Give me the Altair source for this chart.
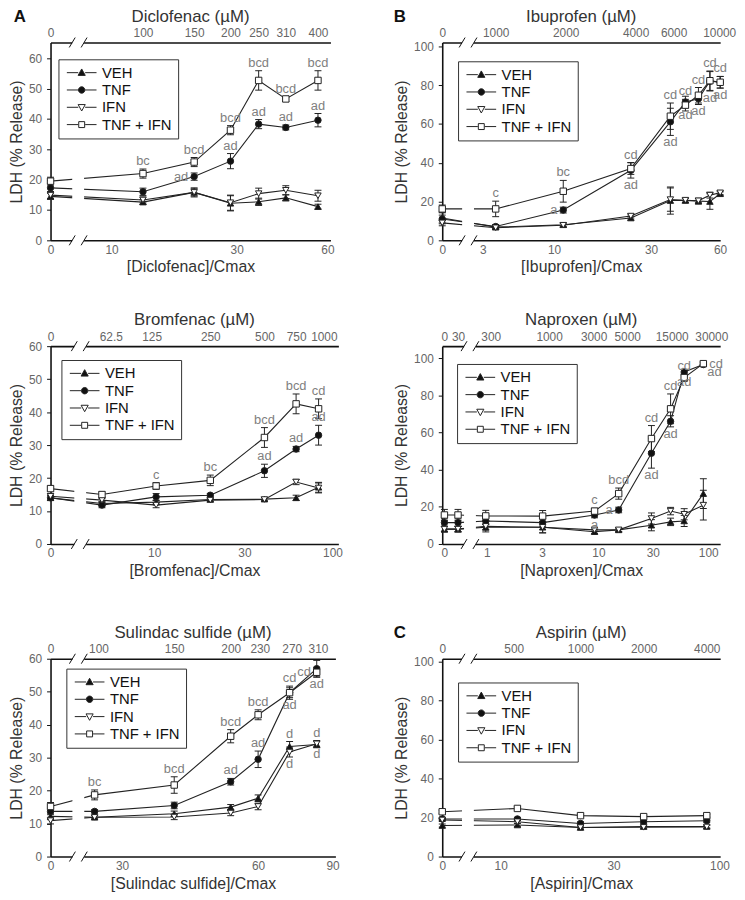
import math
import altair as alt
import pandas as pd

FONT = "Liberation Sans"
SERIES = ["VEH", "TNF", "IFN", "TNF + IFN"]
SHAPES = ["triangle-up", "circle", "triangle-down", "square"]
FILLS = ["#111111", "#111111", "#ffffff", "#ffffff"]

# ---------------- Diclofenac ----------------
dic_conc = [0, 100, 150, 200, 250, 310, 400]
dic_veh = [14.5, 12.6, 15.8, 12.2, 12.7, 14.0, 11.1]
dic_tnf = [17.3, 16.0, 21.0, 26.1, 38.3, 37.2, 39.6]
dic_ifn = [14.9, 13.3, 15.8, 12.4, 15.4, 16.5, 14.7]
dic_ti = [19.5, 22.0, 25.8, 36.3, 52.7, 46.6, 52.7]
dic_veh_err = [1.0, 0.8, 1.2, 2.5, 1.2, 1.0, 0.8]
dic_tnf_err = [1.5, 1.2, 1.2, 2.5, 1.5, 0.8, 2.2]
dic_ifn_err = [1.2, 1.0, 1.5, 2.5, 1.8, 1.5, 1.8]
dic_ti_err = [1.3, 1.5, 1.5, 1.5, 3.2, 0.8, 3.2]
dic_top_ticks = [0, 100, 150, 200, 250, 310, 400]
dic_top_at_um = [0, 100, 150, 200, 250, 310, 400]
dic_cmax_ticks = [0, 10, 30, 60]
dic_cmax_at_um = [0, 78, 210, 431]
dic_ann = [("TNF + IFN", 100, "bc", "above"), ("TNF + IFN", 150, "bcd", "above"),
           ("TNF", 150, "ad", "left"), ("TNF + IFN", 200, "bcd", "above"),
           ("TNF", 200, "ad", "above"), ("TNF + IFN", 250, "bcd", "above"),
           ("TNF", 250, "ad", "above"), ("TNF + IFN", 310, "bcd", "above"),
           ("TNF", 310, "ad", "above"), ("TNF + IFN", 400, "bcd", "above"),
           ("TNF", 400, "ad", "above")]

# ---------------- Ibuprofen ----------------
ibu_conc = [0, 1000, 2000, 4000, 6000, 7000, 8000, 9000, 10000]
ibu_veh = [11.5, 6.8, 8.0, 11.5, 20.5, 20.5, 20.2, 20.0, 24.0]
ibu_tnf = [11.0, 7.1, 15.6, 36.1, 61.1, 71.3, 73.0, 82.0, 81.5]
ibu_ifn = [9.0, 6.5, 7.8, 12.5, 21.0, 20.7, 20.4, 23.3, 24.5]
ibu_ti = [16.2, 16.2, 25.3, 37.0, 64.0, 69.7, 74.8, 82.3, 81.5]
ibu_veh_err = [3.0, 1.0, 1.0, 1.0, 7.0, 1.0, 1.5, 4.0, 1.0]
ibu_tnf_err = [2.0, 1.0, 1.5, 4.0, 7.0, 3.0, 3.0, 5.0, 3.0]
ibu_ifn_err = [1.5, 1.0, 1.0, 1.0, 6.0, 1.0, 1.0, 1.5, 1.0]
ibu_ti_err = [2.0, 4.0, 5.6, 3.0, 6.8, 3.0, 4.0, 5.0, 3.0]
ibu_top_ticks = [0, 1000, 2000, 4000, 6000, 10000]
ibu_top_at_um = [0, 1000, 2050, 4200, 6200, 9900]
ibu_cmax_ticks = [0, 3, 10, 30, 60]
ibu_cmax_at_um = [0, 877, 1820, 4925, 9990]
ibu_ann = [("TNF + IFN", 1000, "c", "above"), ("TNF + IFN", 2000, "bc", "above"),
           ("TNF", 2000, "a", "left"), ("TNF + IFN", 4000, "cd", "above"),
           ("TNF", 4000, "ad", "below"), ("TNF + IFN", 6000, "cd", "above"),
           ("TNF", 6000, "ad", "below"), ("TNF + IFN", 7000, "cd", "above"),
           ("TNF", 7000, "ad", "below"), ("TNF + IFN", 8000, "cd", "above"),
           ("TNF", 8000, "ad", "below"), ("TNF + IFN", 9000, "cd", "above"),
           ("TNF", 9000, "ad", "below"), ("TNF + IFN", 10000, "cd", "above"),
           ("TNF", 10000, "ad", "below")]

# ---------------- Bromfenac ----------------
bro_conc = [0, 62.5, 125, 250, 500, 750, 1000]
bro_veh = [14.0, 12.3, 12.7, 13.5, 13.6, 14.0, 17.2]
bro_tnf = [14.0, 11.8, 14.3, 14.8, 22.2, 28.8, 33.0]
bro_ifn = [14.5, 13.3, 11.8, 13.3, 13.5, 18.8, 17.0]
bro_ti = [16.8, 15.0, 17.6, 19.3, 32.3, 42.5, 41.0]
bro_veh_err = [0.8, 0.5, 0.5, 0.5, 0.5, 0.8, 1.5]
bro_tnf_err = [0.8, 0.8, 1.0, 0.5, 2.0, 0.8, 3.0]
bro_ifn_err = [0.8, 0.5, 0.8, 0.5, 0.5, 0.8, 1.5]
bro_ti_err = [0.8, 0.8, 1.0, 1.6, 3.0, 3.0, 3.0]
bro_top_ticks = [0, 62.5, 125, 250, 500, 750, 1000]
bro_top_at_um = [0, 70, 118, 250, 500, 750, 1070]
bro_cmax_ticks = [0, 10, 30, 100]
bro_cmax_at_um = [0, 122, 387, 1194]
bro_ann = [("TNF + IFN", 125, "c", "above"), ("TNF + IFN", 250, "bc", "above"),
           ("TNF + IFN", 500, "bcd", "above"), ("TNF", 500, "ad", "above"),
           ("TNF + IFN", 750, "bcd", "above"), ("TNF", 750, "ad", "above"),
           ("TNF + IFN", 1000, "cd", "above"), ("TNF", 1000, "ad", "above")]

# ---------------- Naproxen ----------------
nap_conc = [0, 30, 300, 1000, 3000, 5000, 10000, 15000, 20000, 30000]
nap_veh = [8.0, 8.0, 9.0, 9.0, 6.6, 7.6, 10.1, 11.9, 12.4, 27.1]
nap_tnf = [11.5, 11.5, 12.4, 11.5, 15.6, 18.3, 48.8, 66.0, 92.5, 96.5]
nap_ifn = [8.0, 8.0, 9.5, 9.0, 7.6, 7.6, 13.7, 17.7, 16.0, 20.9]
nap_ti = [15.6, 15.6, 15.1, 15.0, 17.7, 27.1, 56.7, 72.7, 89.5, 97.0]
nap_veh_err = [1.5, 1.5, 1.5, 3.0, 1.0, 1.0, 3.0, 2.0, 3.0, 8.0]
nap_tnf_err = [2.0, 2.0, 2.0, 2.0, 1.5, 1.5, 8.0, 3.0, 1.5, 1.0]
nap_ifn_err = [1.5, 1.5, 3.0, 3.0, 1.0, 1.0, 3.0, 2.0, 3.0, 8.0]
nap_ti_err = [3.0, 3.0, 3.0, 3.0, 1.5, 3.0, 7.0, 8.0, 2.0, 1.0]
nap_top_ticks = [0, 30, 300, 1000, 3000, 5000, 15000, 30000]
nap_top_at_um = [0, 30, 333, 1146, 2940, 5980, 15350, 35500]
nap_cmax_ticks = [0, 1, 3, 10, 30, 100]
nap_cmax_at_um = [0, 306, 989, 3258, 10300, 33300]
nap_ann = [("TNF + IFN", 3000, "c", "above"), ("TNF", 3000, "a", "below"),
           ("TNF + IFN", 5000, "bcd", "above"), ("TNF", 5000, "a", "left"),
           ("TNF + IFN", 10000, "cd", "above"), ("TNF", 10000, "ad", "below"),
           ("TNF + IFN", 15000, "cd", "above"), ("TNF", 15000, "ad", "below"),
           ("TNF + IFN", 20000, "cd", "above"), ("TNF", 20000, "ad", "below"),
           ("TNF + IFN", 30000, "cd", "right"), ("TNF", 30000, "ad", "br")]

# ---------------- Sulindac sulfide ----------------
sul_conc = [0, 100, 150, 200, 230, 270, 310]
sul_veh = [12.2, 11.9, 13.0, 15.0, 17.7, 33.4, 34.0]
sul_tnf = [13.7, 13.7, 15.5, 22.7, 29.5, 49.7, 57.0]
sul_ifn = [10.9, 11.9, 12.0, 13.2, 15.2, 31.7, 34.2]
sul_ti = [15.2, 18.7, 21.7, 36.5, 43.0, 49.7, 55.9]
sul_veh_err = [1.0, 0.5, 0.8, 0.8, 1.0, 1.5, 1.0]
sul_tnf_err = [1.0, 0.5, 1.0, 1.0, 2.5, 1.5, 2.5]
sul_ifn_err = [1.0, 0.5, 0.8, 0.8, 1.0, 1.5, 1.0]
sul_ti_err = [1.2, 1.5, 2.5, 2.0, 1.5, 2.0, 1.5]
sul_top_ticks = [0, 100, 150, 200, 230, 270, 310]
sul_top_at_um = [0, 102, 150, 200, 232, 273, 312]
sul_cmax_ticks = [0, 30, 60, 90]
sul_cmax_at_um = [0, 115, 230, 336]
sul_ann = [("TNF + IFN", 100, "bc", "above"), ("TNF + IFN", 150, "bcd", "above"),
           ("TNF + IFN", 200, "bcd", "above"), ("TNF", 200, "ad", "above"),
           ("TNF + IFN", 230, "bcd", "above"), ("TNF", 230, "ad", "above"),
           ("TNF + IFN", 270, "cd", "above"), ("TNF", 270, "ad", "below"),
           ("VEH", 270, "d", "above"), ("IFN", 270, "d", "below"),
           ("TNF + IFN", 310, "cd", "left"), ("TNF", 310, "ad", "below"),
           ("VEH", 310, "d", "above"), ("IFN", 310, "d", "below")]

# ---------------- Aspirin ----------------
asp_conc = [0, 500, 1000, 2000, 4000]
asp_veh = [15.9, 16.2, 14.9, 15.4, 15.4]
asp_tnf = [19.3, 19.3, 17.0, 17.9, 18.4]
asp_ifn = [18.8, 17.9, 14.9, 15.0, 15.2]
asp_ti = [23.0, 24.7, 21.0, 20.5, 21.0]
asp_veh_err = [0.8, 0.8, 0.8, 0.8, 0.8]
asp_tnf_err = [0.8, 0.8, 0.8, 0.8, 0.8]
asp_ifn_err = [0.8, 0.8, 0.8, 0.8, 0.8]
asp_ti_err = [0.8, 0.8, 0.8, 0.8, 0.8]
asp_top_ticks = [0, 500, 1000, 2000, 4000]
asp_top_at_um = [0, 480, 1000, 2000, 4000]
asp_cmax_ticks = [0, 10, 30, 100]
asp_cmax_at_um = [0, 416, 1436, 4600]
asp_ann = []

DRUGS = {
    "Diclofenac": dict(conc=dic_conc, mean=[dic_veh, dic_tnf, dic_ifn, dic_ti],
                       err=[dic_veh_err, dic_tnf_err, dic_ifn_err, dic_ti_err],
                       top=dic_top_ticks, tu=dic_top_at_um, bl=dic_cmax_ticks,
                       bu=dic_cmax_at_um, ann=dic_ann),
    "Ibuprofen": dict(conc=ibu_conc, mean=[ibu_veh, ibu_tnf, ibu_ifn, ibu_ti],
                      err=[ibu_veh_err, ibu_tnf_err, ibu_ifn_err, ibu_ti_err],
                      top=ibu_top_ticks, tu=ibu_top_at_um, bl=ibu_cmax_ticks,
                      bu=ibu_cmax_at_um, ann=ibu_ann),
    "Bromfenac": dict(conc=bro_conc, mean=[bro_veh, bro_tnf, bro_ifn, bro_ti],
                      err=[bro_veh_err, bro_tnf_err, bro_ifn_err, bro_ti_err],
                      top=bro_top_ticks, tu=bro_top_at_um, bl=bro_cmax_ticks,
                      bu=bro_cmax_at_um, ann=bro_ann),
    "Naproxen": dict(conc=nap_conc, mean=[nap_veh, nap_tnf, nap_ifn, nap_ti],
                     err=[nap_veh_err, nap_tnf_err, nap_ifn_err, nap_ti_err],
                     top=nap_top_ticks, tu=nap_top_at_um, bl=nap_cmax_ticks,
                     bu=nap_cmax_at_um, ann=nap_ann),
    "Sulindac sulfide": dict(conc=sul_conc, mean=[sul_veh, sul_tnf, sul_ifn, sul_ti],
                             err=[sul_veh_err, sul_tnf_err, sul_ifn_err, sul_ti_err],
                             top=sul_top_ticks, tu=sul_top_at_um, bl=sul_cmax_ticks,
                             bu=sul_cmax_at_um, ann=sul_ann),
    "Aspirin": dict(conc=asp_conc, mean=[asp_veh, asp_tnf, asp_ifn, asp_ti],
                    err=[asp_veh_err, asp_tnf_err, asp_ifn_err, asp_ti_err],
                    top=asp_top_ticks, tu=asp_top_at_um, bl=asp_cmax_ticks,
                    bu=asp_cmax_at_um, ann=asp_ann),
}

# layout: plot sizes, broken-log x domain (log10 uM), pre-break offsets, break centre,
# y-axis top, legend offset, panel-letter offsets (pixels from the plot corner)
TITLE_Y = -26
LAYOUT = {
    "Diclofenac": dict(w=283, h=200, xdom=[1.682, 2.645], pre=[0.0], brk=1.777, ymax=65.2,
                       ystep=10, leg=(8, 17), letter="A", lpos=(-31, -26)),
    "Ibuprofen": dict(w=281, h=200, xdom=[2.762, 4.000], pre=[0.0], brk=2.877, ymax=102,
                      ystep=20, leg=(16, 19), letter="B", lpos=(-43, -26)),
    "Bromfenac": dict(w=291, h=200, xdom=[1.510, 3.110], pre=[0.0], brk=1.675, ymax=60,
                      ystep=10, leg=(11, 14), letter="", lpos=(0, 0)),
    "Naproxen": dict(w=281, h=200, xdom=[2.077, 4.632], pre=[0.02, 0.145], brk=2.332, ymax=106.4,
                     ystep=20, leg=(15, 18), letter="", lpos=(0, 0)),
    "Sulindac sulfide": dict(w=288, h=200, xdom=[1.9025, 2.5327], pre=[0.0], brk=1.964, ymax=60,
                             ystep=10, leg=(16, 10), letter="", lpos=(0, 0)),
    "Aspirin": dict(w=281, h=200, xdom=[2.3405, 3.666], pre=[0.0], brk=2.463, ymax=101.5,
                    ystep=20, leg=(16, 24), letter="C", lpos=(-43, -26)),
}
RIGHT_PLOT_LEFT = 446
LEFT_PLOT_LEFT = 50

# legend symbols: short line + marker
_line = "M-3,0H-0.7M0.7,0H3"
LEG_PATHS = [
    _line + "M0,-0.75L0.72,0.55L-0.72,0.55Z",
    _line + "M0.65,0A0.65,0.65,0,1,1,-0.65,0A0.65,0.65,0,1,1,0.65,0Z",
    _line + "M0,0.75L0.72,-0.55L-0.72,-0.55Z",
    _line + "M-0.6,-0.6H0.6V0.6H-0.6Z",
]


def label_expr(vals, labs):
    expr = "''"
    for v, l in zip(vals, labs):
        expr = f"(abs(datum.value - {v}) < 0.0005) ? '{l}' : ({expr})"
    return expr


def build_panel(name):
    d = DRUGS[name]
    L = LAYOUT[name]
    W, H = L["w"], L["h"]
    xmin, xmax = L["xdom"]
    u = (xmax - xmin) / W  # log units per pixel
    conc = d["conc"]
    pre = L["pre"]
    pre_conc = conc[:len(pre)]

    def pos(c):
        if c in pre_conc:
            return round(xmin + pre[pre_conc.index(c)], 6)
        return round(math.log10(c), 6)

    rows = []
    for k, s in enumerate(SERIES):
        for c, m, e in zip(conc, d["mean"][k], d["err"][k]):
            rows.append(dict(series=s, conc=c, xp=pos(c), mean=m, lo=m - e, hi=m + e,
                             shp=SHAPES[k], fc=FILLS[k]))
    df = pd.DataFrame(rows)

    arows = []
    for s, c, t, side in d["ann"]:
        k = SERIES.index(s)
        i = conc.index(c)
        m, e = d["mean"][k][i], d["err"][k][i]
        ya = m + e if side == "above" else (m - e if side == "below" else m)
        arows.append(dict(xp=pos(c), ya=ya, text=t, side=side))
    adf = pd.DataFrame(arows, columns=["xp", "ya", "text", "side"])

    top_vals = [pos(c) if c in pre_conc else round(math.log10(tu), 6)
                for c, tu in zip(d["top"], d["tu"])]
    top_labs = [("%g" % c) for c in d["top"]]
    bot_vals = [round(xmin + pre[0], 6) if l == 0 else round(math.log10(um), 6)
                for l, um in zip(d["bl"], d["bu"])]
    bot_labs = [str(l) for l in d["bl"]]

    xs = alt.Scale(domain=[xmin, xmax], nice=False, zero=False)
    ys = alt.Scale(domain=[0, L["ymax"]], nice=False, zero=False)

    bottom_axis = alt.Axis(orient="bottom", values=bot_vals, labelExpr=label_expr(bot_vals, bot_labs),
                           title=f"[{name}]/Cmax", ticks=False, labelPadding=4, titlePadding=4,
                           labelFlush=False, labelOverlap=False, titleFontSize=16, tickCount=30)
    top_axis = alt.Axis(orient="top", values=top_vals, labelExpr=label_expr(top_vals, top_labs),
                        title=None, ticks=False, labelPadding=3, labelFlush=False,
                        labelOverlap=False, tickCount=30)
    yticks = list(range(0, int(L["ymax"]) + 1, L["ystep"]))
    y_axis = alt.Axis(values=yticks, title="LDH (% Release)", tickSize=4, labelPadding=5,
                      titlePadding=4, labelFlush=False, labelOverlap=False, tickCount=30)

    base = alt.Chart(df)
    lines = base.mark_line(color="#222222", strokeWidth=1.1).encode(
        x=alt.X("xp:Q", scale=xs, axis=bottom_axis),
        y=alt.Y("mean:Q", scale=ys, axis=y_axis),
        detail="series:N",
    )

    b = L["brk"]
    brk_df = pd.DataFrame({"b1": [b - 6 * u], "b2": [b + 6 * u]})
    brk_rect = alt.Chart(brk_df).mark_rect(color="white").encode(
        x=alt.X("b1:Q", scale=xs, axis=None), x2="b2:Q",
        y=alt.value(-4), y2=alt.value(H + 4))
    sl_df = pd.DataFrame({"x1": [b - 6 * u - 3 * u, b + 6 * u - 3 * u],
                          "x2": [b - 6 * u + 3 * u, b + 6 * u + 3 * u]})
    sl_bot = alt.Chart(sl_df).mark_rule(color="#111111", strokeWidth=1).encode(
        x=alt.X("x1:Q", scale=xs, axis=None), x2="x2:Q",
        y=alt.value(H + 5), y2=alt.value(H - 5))
    sl_top = alt.Chart(sl_df).mark_rule(color="#111111", strokeWidth=1).encode(
        x=alt.X("x1:Q", scale=xs, axis=None), x2="x2:Q",
        y=alt.value(5), y2=alt.value(-5))

    ebar = base.mark_rule(color="#222222", strokeWidth=1).encode(
        x=alt.X("xp:Q", scale=xs, axis=None),
        y=alt.Y("lo:Q", scale=ys, axis=y_axis), y2="hi:Q")
    cap_hi = base.mark_tick(orient="horizontal", size=7, thickness=1, color="#222222",
                            opacity=1).encode(
        x=alt.X("xp:Q", scale=xs, axis=None), y=alt.Y("hi:Q", scale=ys, axis=y_axis))
    cap_lo = base.mark_tick(orient="horizontal", size=7, thickness=1, color="#222222",
                            opacity=1).encode(
        x=alt.X("xp:Q", scale=xs, axis=None), y=alt.Y("lo:Q", scale=ys, axis=y_axis))

    markers = base.mark_point(size=42, stroke="#222222", strokeWidth=1, opacity=1).encode(
        x=alt.X("xp:Q", scale=xs, axis=top_axis),
        y=alt.Y("mean:Q", scale=ys, axis=y_axis),
        shape=alt.Shape("shp:N", scale=None),
        fill=alt.Fill("fc:N", scale=None),
    )

    layers = [lines, brk_rect, sl_bot, sl_top, ebar, cap_hi, cap_lo, markers]

    side_style = {
        "above": dict(align="center", baseline="bottom", dy=-1),
        "below": dict(align="center", baseline="top", dy=1),
        "left": dict(align="right", baseline="middle", dx=-6),
        "right": dict(align="left", baseline="middle", dx=6),
        "br": dict(align="left", baseline="top", dx=4, dy=2),
    }
    if len(adf):
        abase = alt.Chart(adf)
        for side, st in side_style.items():
            if (adf["side"] == side).any():
                layers.append(
                    abase.transform_filter(alt.datum.side == side)
                    .mark_text(color="#808080", fontSize=13, font=FONT, **st)
                    .encode(x=alt.X("xp:Q", scale=xs, axis=None),
                            y=alt.Y("ya:Q", scale=ys, axis=y_axis), text="text:N"))

    leg = alt.Legend(orient="none", legendX=L["leg"][0], legendY=L["leg"][1], title=None,
                     strokeColor="#333333", fillColor="white", padding=6, symbolSize=100,
                     symbolStrokeWidth=1, symbolStrokeColor="#222222", symbolOffset=10,
                     labelOffset=13, labelFontSize=15, labelFont=FONT, labelColor="#111111",
                     rowPadding=1.5, cornerRadius=0, symbolOpacity=1)
    legend_layer = base.transform_filter("false").mark_point(
        size=100, stroke="#222222", strokeWidth=1, opacity=1).encode(
        shape=alt.Shape("series:N", scale=alt.Scale(domain=SERIES, range=LEG_PATHS), legend=leg),
        fill=alt.Fill("series:N", scale=alt.Scale(domain=SERIES, range=FILLS), legend=leg),
    )
    layers.append(legend_layer)

    # panel title and letter
    layers.append(alt.Chart(brk_df).mark_text(text=f"{name} (µM)", fontSize=17, font=FONT,
                                              color="#333333", baseline="middle").encode(
        x=alt.value(W / 2), y=alt.value(TITLE_Y)))
    if L["letter"]:
        layers.append(alt.Chart(brk_df).mark_text(text=L["letter"], fontSize=17, fontWeight="bold",
                                                  font=FONT, color="#111111",
                                                  baseline="middle").encode(
            x=alt.value(L["lpos"][0]), y=alt.value(L["lpos"][1])))

    return alt.layer(*layers).properties(width=W, height=H)


def indep(c):
    return c.resolve_scale(shape="independent", fill="independent").resolve_legend(
        shape="independent", fill="independent")


def row(a, b):
    gap = RIGHT_PLOT_LEFT - (LEFT_PLOT_LEFT + LAYOUT[a]["w"])
    return indep(alt.hconcat(build_panel(a), build_panel(b), spacing=gap, bounds="flush"))


lower = indep(alt.vconcat(
    row("Bromfenac", "Naproxen"),
    row("Sulindac sulfide", "Aspirin"),
    spacing=44,
))

chart = indep(alt.vconcat(
    row("Diclofenac", "Ibuprofen"),
    lower,
    spacing=35,
)).properties(
    padding={"left": 0, "top": -6, "right": 0, "bottom": 0}
).configure_view(stroke="transparent").configure_axis(
    labelFont=FONT, titleFont=FONT, labelColor="#666666", labelFontSize=12,
    titleFontSize=16, titleFontWeight="normal", titleColor="#333333",
    domainColor="#111111", domainWidth=1.6, tickColor="#111111", grid=False,
)

chart.save("out.html", embed_options={"renderer": "svg", "actions": False})
